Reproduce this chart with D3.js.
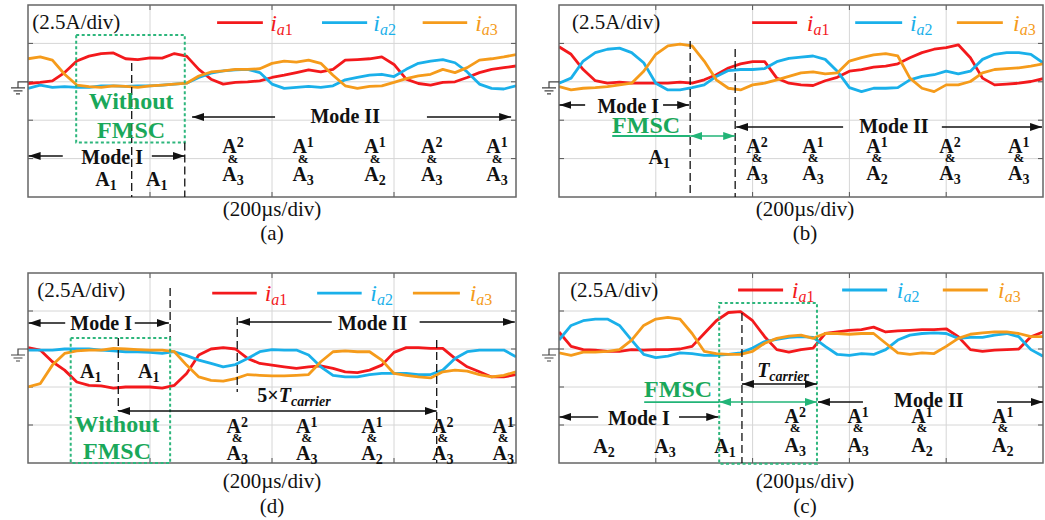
<!DOCTYPE html>
<html>
<head>
<meta charset="utf-8">
<script src="https://cdn.jsdelivr.net/npm/d3@7.9.0/dist/d3.min.js"></script>
<style>
  body { margin: 0; background: #fff; }
  svg { display: block; font-family: "Liberation Serif", "Times New Roman", serif; }
</style>
</head>
<body>
<script>
// scope settings
const usPerDiv = 200;
const ampsPerDiv = 2.5;
const seriesSubs = ['1', '2', '3'];

const ia1A = [-0.11,-0.04,0.06,0.60,1.35,1.67,1.84,1.88,1.50,1.45,1.56,1.54,1.84,1.67,0.81,0.17,-0.15,-0.04,0,0.06,0.28,0.43,0.60,0.77,0.64,0.81,1.41,1.45,1.50,1.62,1.13,0.17,-0.11,-0.21,-0.04,0,0.28,0.60,0.81,0.92,1.03];
const ia2A = [-0.43,-0.21,-0.36,-0.32,-0.36,-0.36,-0.26,-0.26,-0.30,-0.26,-0.26,-0.21,-0.15,-0.09,0.28,0.56,0.71,0.77,0.81,0.60,-0.15,-0.43,-0.36,-0.30,-0.36,-0.26,0.13,0.28,0.43,0.49,0.34,0.81,1.20,1.35,1.45,1.24,0.64,-0.15,-0.43,-0.47,-0.26];
const ia3A = [1.50,1.62,1.41,0.49,-0.21,-0.32,-0.36,-0.26,-0.30,-0.36,-0.26,-0.21,-0.15,-0.09,0.38,0.64,0.71,0.81,0.81,0.85,1.20,1.35,1.28,1.41,1.20,0.43,-0.26,-0.43,-0.30,-0.26,-0.04,0.21,0.38,0.49,0.81,0.60,0.92,1.41,1.50,1.62,1.77];

const ia1B = [2.28,1.79,0.80,0.07,-0.09,-0.02,-0.09,-0.09,-0.09,-0.09,-0.02,-0.09,0.13,0.46,0.90,1.17,1.31,1.31,0.24,-0.09,-0.20,-0.24,0.07,0.29,0.69,0.80,0.95,1.02,1.17,1.57,1.90,2.12,2.23,2.41,1.57,0.24,-0.20,-0.15,-0.09,0.02,0.20];
const ia2B = [-0.09,0.24,1.35,1.90,2.12,2.19,1.90,1.24,-0.09,-0.53,-0.53,-0.38,-0.20,0.35,0.73,0.80,0.80,0.86,1.31,1.53,1.61,1.68,1.46,0.69,-0.38,-0.64,-0.42,-0.42,-0.38,0.13,0.35,0.46,0.69,0.51,0.69,1.46,1.79,1.90,1.90,1.79,1.24];
const ia3B = [-0.31,-0.53,-0.42,-0.38,-0.31,-0.20,-0.09,0.69,1.79,2.34,2.46,2.34,1.35,0.13,-0.42,-0.53,-0.20,-0.09,0.13,0.35,0.58,0.64,0.51,0.58,1.35,1.57,1.75,1.84,1.68,0.24,-0.42,-0.64,-0.20,-0.20,0.02,0.58,0.80,0.86,0.91,1.02,1.17];

const ia1D = [0.09,-0.07,-0.84,-1.39,-2.17,-2.39,-2.43,-2.57,-2.50,-2.50,-2.50,-2.57,-2.39,-1.61,-0.40,0,0.09,0,-0.62,-0.95,-1.06,-1.17,-1.28,-1.17,-1.11,-1.28,-1.50,-1.55,-1.39,-1.06,-0.22,0.09,0.09,0.04,0.04,-0.62,-1.17,-1.50,-1.84,-1.84,-1.68];
const ia2D = [-0.07,-0.07,-0.07,0,0,0,-0.07,-0.13,-0.18,-0.18,-0.22,-0.29,-0.18,-0.44,-0.73,-0.95,-1.17,-1.02,-0.62,-0.18,-0.04,-0.07,-0.07,-0.40,-1.17,-1.73,-1.84,-1.84,-1.68,-1.61,-1.61,-1.61,-1.68,-1.68,-1.39,-0.62,-0.18,-0.07,-0.07,-0.07,-0.51];
const ia3D = [-2.50,-2.28,-1.06,-0.29,-0.13,-0.07,-0.07,0.04,0,-0.04,-0.07,-0.07,-0.18,-1.06,-1.84,-2.06,-2.12,-1.95,-1.68,-1.73,-1.77,-1.77,-1.73,-1.68,-0.84,-0.18,-0.13,-0.18,-0.18,-0.73,-1.61,-1.73,-1.84,-1.90,-1.50,-1.39,-1.46,-1.68,-1.84,-1.73,-1.50];

const ia1C = [1.12,0.17,-0.04,-0.08,-0.15,-0.15,-0.04,-0.08,-0.04,-0.04,0,0.17,1.02,1.86,2.40,2.46,1.86,0.81,-0.04,-0.21,-0.04,0.06,1.02,1.12,1.23,1.27,1.44,1.12,1.19,1.23,1.27,1.27,1.33,0.81,-0.04,-0.15,-0.08,-0.04,0,0.81,1.12];
const ia2C = [0.59,1.55,1.86,1.97,1.97,1.55,0.59,-0.36,-0.57,-0.47,-0.25,-0.30,-0.42,-0.42,-0.36,-0.25,0.06,0.49,0.64,0.76,0.81,0.76,0.17,-0.36,-0.42,-0.30,-0.36,-0.04,0.59,0.91,1.02,1.06,1.02,0.70,0.76,0.76,0.91,1.02,0.81,-0.04,-0.47];
const ia3C = [-0.25,-0.42,-0.21,-0.21,-0.15,-0.04,0.59,1.55,1.97,2.08,1.97,1.02,-0.15,-0.30,-0.36,-0.36,-0.15,0.38,0.70,0.85,0.91,0.70,1.02,1.02,0.97,1.02,1.02,0.38,-0.25,-0.36,-0.25,-0.30,0.17,0.70,0.97,1.06,1.12,1.12,1.02,0.81,0.81];

// active arm pairs written under each segment
const pairsA = ['23', '13', '12', '23', '13'];
const pairsB = ['23', '13', '12', '23', '13'];
const pairsD = ['23', '13', '12', '23', '13'];
const pairsC = ['23', '13', '12', '12'];

const colors = ['#f3191c', '#1ab0ea', '#f59b1b'];
const GREEN = '#1aa85a';
const GREEN_LINE = '#22b477';

const svg = d3.select('body').append('svg').attr('width', 1045).attr('height', 520);
const defs = svg.append('defs');

function marker(id, color) {
  defs.append('marker')
    .attr('id', id)
    .attr('viewBox', '0 0 12 8')
    .attr('refX', 12).attr('refY', 4)
    .attr('markerWidth', 12).attr('markerHeight', 8)
    .attr('markerUnits', 'userSpaceOnUse')
    .attr('orient', 'auto-start-reverse')
    .append('path').attr('d', 'M0,0L12,4L0,8Z').attr('fill', color);
}
marker('ahk', '#111');
marker('ahg', GREEN_LINE);

let clipId = 0;
function makePanel(box, divsX, series) {
  const x = d3.scaleLinear().domain([0, divsX * usPerDiv]).range([box.left, box.right]);
  const y = d3.scaleLinear().domain([-3 * ampsPerDiv, 2 * ampsPerDiv]).range([box.bottom, box.top]);
  const g = svg.append('g');

  // grid
  g.selectAll('.gx').data(d3.range(1, divsX)).join('line')
    .attr('x1', d => x(d * usPerDiv)).attr('x2', d => x(d * usPerDiv))
    .attr('y1', box.top).attr('y2', box.bottom)
    .attr('stroke', '#d6d6d6').attr('stroke-width', 1);
  g.selectAll('.gy').data(d3.range(-2, 2)).join('line')
    .attr('x1', box.left).attr('x2', box.right)
    .attr('y1', d => y(d * ampsPerDiv)).attr('y2', d => y(d * ampsPerDiv))
    .attr('stroke', '#d6d6d6').attr('stroke-width', 1);

  // small ticks on the frame edges
  d3.range(1, divsX).forEach(d => {
    const xx = x(d * usPerDiv);
    g.append('line').attr('x1', xx).attr('x2', xx).attr('y1', box.bottom).attr('y2', box.bottom - 5).attr('stroke', '#555');
    g.append('line').attr('x1', xx).attr('x2', xx).attr('y1', box.top).attr('y2', box.top + 5).attr('stroke', '#555');
  });
  d3.range(-2, 2).forEach(d => {
    const yy = y(d * ampsPerDiv);
    g.append('line').attr('x1', box.left).attr('x2', box.left + 5).attr('y1', yy).attr('y2', yy).attr('stroke', '#555');
    g.append('line').attr('x1', box.right).attr('x2', box.right - 5).attr('y1', yy).attr('y2', yy).attr('stroke', '#555');
  });

  // waveforms
  const id = 'clip' + (clipId++);
  defs.append('clipPath').attr('id', id).append('rect')
    .attr('x', box.left).attr('y', box.top)
    .attr('width', box.right - box.left).attr('height', box.bottom - box.top);
  const wave = g.append('g').attr('clip-path', `url(#${id})`);
  series.forEach((vals, k) => {
    const dt = divsX * usPerDiv / (vals.length - 1);
    const line = d3.line().x((d, i) => x(i * dt)).y(d => y(d));
    wave.append('path').attr('d', line(vals))
      .attr('fill', 'none').attr('stroke', colors[k])
      .attr('stroke-width', 2.8).attr('stroke-linejoin', 'round');
  });

  // frame
  g.append('rect')
    .attr('x', box.left).attr('y', box.top)
    .attr('width', box.right - box.left).attr('height', box.bottom - box.top)
    .attr('fill', 'none').attr('stroke', '#666').attr('stroke-width', 1.5);

  // ground marker
  const gy = y(0), gx = box.left - 10;
  const gp = d3.path();
  gp.moveTo(box.left, gy); gp.lineTo(gx, gy); gp.lineTo(gx, gy + 6);
  gp.moveTo(gx - 7, gy + 6); gp.lineTo(gx + 7, gy + 6);
  gp.moveTo(gx - 4.5, gy + 9); gp.lineTo(gx + 4.5, gy + 9);
  gp.moveTo(gx - 2, gy + 12); gp.lineTo(gx + 2, gy + 12);
  g.append('path').attr('d', gp.toString()).attr('fill', 'none').attr('stroke', '#444').attr('stroke-width', 1.2);

  const ann = svg.append('g');
  return { x, y, g: ann, box };
}

function txt(g, x, y, s, o = {}) {
  return g.append('text').attr('x', x).attr('y', y)
    .attr('text-anchor', o.anchor || 'middle')
    .attr('font-size', o.size || 20)
    .attr('font-weight', o.weight || 'bold')
    .attr('font-style', o.style || 'normal')
    .attr('fill', o.fill || '#111')
    .text(s);
}

function aName(p, t, A, digit, raised) {
  const el = txt(p.g, p.x(t), p.y(A), 'A');
  el.append('tspan').attr('font-size', 14).attr('dy', raised ? -6 : 4).text(digit);
  return el;
}

function stacks(p, ts, pairs, rows) {
  ts.forEach((t, i) => {
    aName(p, t, rows[0], pairs[i][0], true);
    txt(p.g, p.x(t), p.y(rows[1]), '&', { size: 13 });
    aName(p, t, rows[2], pairs[i][1], false);
  });
}

function arrow(p, t1, t2, A, color, both) {
  const m = color === 'g' ? 'ahg' : 'ahk';
  const l = p.g.append('line')
    .attr('x1', p.x(t1)).attr('x2', p.x(t2))
    .attr('y1', p.y(A)).attr('y2', p.y(A))
    .attr('stroke', color === 'g' ? GREEN_LINE : '#111').attr('stroke-width', 1.6)
    .attr('marker-end', `url(#${m})`);
  if (both) l.attr('marker-start', `url(#${m})`);
}

function plain(p, t1, t2, A) {
  p.g.append('line').attr('x1', p.x(t1)).attr('x2', p.x(t2))
    .attr('y1', p.y(A)).attr('y2', p.y(A))
    .attr('stroke', GREEN_LINE).attr('stroke-width', 1.8);
}

function dash(p, t, A1, A2) {
  p.g.append('line').attr('x1', p.x(t)).attr('x2', p.x(t))
    .attr('y1', p.y(A1)).attr('y2', p.y(A2))
    .attr('stroke', '#111').attr('stroke-width', 1.3).attr('stroke-dasharray', '8,4');
}

function greenBox(p, t1, t2, A1, A2) {
  p.g.append('rect')
    .attr('x', p.x(t1)).attr('y', p.y(A1))
    .attr('width', p.x(t2) - p.x(t1)).attr('height', p.y(A2) - p.y(A1))
    .attr('fill', 'none').attr('stroke', '#2db67c').attr('stroke-width', 2)
    .attr('stroke-dasharray', '3,2.5');
}

function legend(p, A, starts) {
  starts.forEach(([t1, t2, tt], k) => {
    p.g.append('line').attr('x1', p.x(t1)).attr('x2', p.x(t2))
      .attr('y1', p.y(A)).attr('y2', p.y(A))
      .attr('stroke', colors[k]).attr('stroke-width', 2.8);
    const el = txt(p.g, p.x(tt), p.y(A) + 8, 'i', { anchor: 'start', size: 24, weight: 'normal', style: 'italic', fill: colors[k] });
    el.append('tspan').attr('font-size', 16).attr('dy', 4).text('a');
    el.append('tspan').attr('font-size', 16).attr('font-style', 'normal').text(seriesSubs[k]);
  });
}

function scaleNote(p, t, A) {
  txt(p.g, p.x(t), p.y(A), '(2.5A/div)', { anchor: 'start', size: 21, weight: 'normal' });
}

function tCarrier(p, t, A, prefix) {
  const el = txt(p.g, p.x(t), p.y(A), prefix);
  el.append('tspan').attr('font-style', 'italic').text('T');
  el.append('tspan').attr('font-style', 'italic').attr('font-size', 14).attr('dy', 4).text('carrier');
}

function caption(cx, y1, y2, letter) {
  txt(svg, cx, y1, '(200\u00b5s/div)', { size: 21, weight: 'normal' });
  txt(svg, cx, y2, `(${letter})`, { size: 21, weight: 'normal' });
}

// ---------- (a) ----------
const pa = makePanel({ left: 28, right: 516, top: 5, bottom: 197 }, 4, [ia1A, ia2A, ia3A]);
scaleNote(pa, 7, 3.45);
legend(pa, 3.85, [[310, 385, 397], [482, 556, 566], [647, 720, 733]]);
greenBox(pa, 79, 257, 3.05, -3.95);
dash(pa, 170, 1.22, -7.5);
dash(pa, 257, -3.95, -7.5);
txt(pa.g, pa.x(169), pa.y(-1.75), 'Without', { fill: GREEN, size: 24 });
txt(pa.g, pa.x(169), pa.y(-3.63), 'FMSC', { fill: GREEN, size: 24 });
arrow(pa, 405, 269, -2.29);
arrow(pa, 654, 792, -2.29);
txt(pa.g, pa.x(520), pa.y(-2.68), 'Mode II');
arrow(pa, 57, 1, -4.83);
arrow(pa, 203, 257, -4.83);
txt(pa.g, pa.x(138), pa.y(-5.35), 'Mode I');
aName(pa, 128, -6.78, '1');
aName(pa, 211, -6.78, '1');
stacks(pa, [336, 451, 569, 662, 769], pairsA, [-4.64, -5.29, -6.46]);
caption(272, 216, 240, 'a');

// ---------- (b) ----------
const pb = makePanel({ left: 559, right: 1043, top: 5, bottom: 197 }, 5, [ia1B, ia2B, ia3B]);
scaleNote(pb, 27, 3.45);
legend(pb, 3.85, [[399, 492, 512], [612, 709, 725], [822, 917, 938]]);
dash(pb, 271, 2.66, -7.5);
dash(pb, 364, 2.14, -7.5);
arrow(pb, 54, 1, -1.51);
arrow(pb, 215, 269, -1.51);
txt(pb.g, pb.x(143), pb.y(-2.03), 'Mode I');
txt(pb.g, pb.x(180), pb.y(-3.33), 'FMSC', { fill: GREEN, size: 24 });
plain(pb, 110, 271, -3.53);
arrow(pb, 271, 364, -3.53, 'g', true);
arrow(pb, 587, 366, -2.94);
arrow(pb, 791, 998, -2.94);
txt(pb.g, pb.x(692), pb.y(-3.33), 'Mode II');
aName(pb, 207, -5.35, '1');
stacks(pb, [409, 525, 657, 808, 950], pairsB, [-4.64, -5.22, -6.39]);
caption(805, 216, 240, 'b');

// ---------- (d) ----------
const pd = makePanel({ left: 28, right: 516, top: 273, bottom: 463 }, 4, [ia1D, ia2D, ia3D]);
scaleNote(pd, 15, 3.42);
legend(pd, 3.68, [[302, 375, 388], [474, 547, 561], [631, 708, 724]]);
arrow(pd, 61, 1, 1.71);
arrow(pd, 175, 231, 1.71);
txt(pd.g, pd.x(120), pd.y(1.25), 'Mode I');
dash(pd, 233, 4.01, 0.59);
greenBox(pd, 70, 233, 0.72, -7.5);
dash(pd, 148, 0.72, -4.08);
dash(pd, 343, 2.11, -2.83);
dash(pd, 670, 0.59, -7.5);
arrow(pd, 498, 345, 1.78);
arrow(pd, 642, 798, 1.78);
txt(pd.g, pd.x(565), pd.y(1.25), 'Mode II');
aName(pd, 103, -1.91, '1');
aName(pd, 198, -1.91, '1');
tCarrier(pd, 436, -3.49, '5\u00d7');
arrow(pd, 148, 670, -4.08, 'k', true);
txt(pd.g, pd.x(146), pd.y(-5.46), 'Without', { fill: GREEN, size: 24 });
txt(pd.g, pd.x(146), pd.y(-7.24), 'FMSC', { fill: GREEN, size: 24 });
stacks(pd, [343, 457, 564, 680, 779], pairsD, [-5.53, -6.12, -7.30]);
caption(272, 488, 513, 'd');

// ---------- (c) ----------
const pc = makePanel({ left: 559, right: 1043, top: 273, bottom: 463 }, 5, [ia1C, ia2C, ia3C]);
scaleNote(pc, 23, 3.42);
legend(pc, 3.88, [[370, 463, 481], [585, 678, 698], [793, 886, 907]]);
greenBox(pc, 331, 533, 3.03, -7.55);
dash(pc, 378, 2.37, -7.5);
tCarrier(pc, 463, -1.84, '');
arrow(pc, 378, 533, -2.30, 'k', true);
txt(pc.g, pc.x(246), pc.y(-3.16), 'FMSC', { fill: GREEN, size: 24 });
plain(pc, 176, 331, -3.49);
arrow(pc, 331, 533, -3.49, 'g', true);
arrow(pc, 628, 535, -3.49);
arrow(pc, 905, 1000, -3.49);
txt(pc.g, pc.x(764), pc.y(-3.82), 'Mode II');
arrow(pc, 81, 1, -4.47);
arrow(pc, 248, 329, -4.47);
txt(pc.g, pc.x(165), pc.y(-5.0), 'Mode I');
aName(pc, 93, -6.84, '2');
aName(pc, 219, -6.84, '3');
aName(pc, 343, -6.84, '1');
stacks(pc, [488, 618, 750, 917], pairsC, [-4.87, -5.46, -6.78]);
caption(805, 488, 513, 'c');
</script>
</body>
</html>
